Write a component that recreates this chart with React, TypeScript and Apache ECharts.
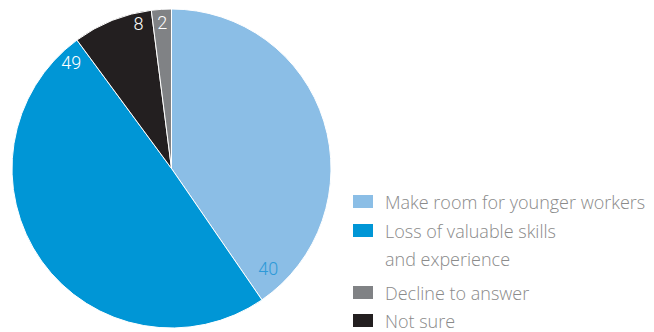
import React, { useEffect, useRef } from 'react';
import * as echarts from 'echarts';

// ---- data ----
const categories = [
  'Make room for younger workers',
  'Loss of valuable skills and experience',
  'Not sure',
  'Decline to answer',
];
const values = [40, 49, 8, 2];
const legendOrder = [
  'Make room for younger workers',
  'Loss of valuable skills and experience',
  'Decline to answer',
  'Not sure',
];
const legendLabels = [
  'Make room for younger workers',
  'Loss of valuable skills\nand experience',
  'Decline to answer',
  'Not sure',
];

// ---- style ----
const colors = ['#8BBEE6', '#0096D6', '#231F20', '#808285'];
const labelColors = ['#2E9AD8', '#FFFFFF', '#FFFFFF', '#FFFFFF'];
const labelBackDeg = [9.5, 7, 5.5, 3.6];
const labelRadius = [139, 146, 149, 146];
const CX = 171.5;
const CY = 168.5;
const R = 159.5;
const FONT = 'Roboto, "Noto Sans", sans-serif';
const LEGEND_FONT = '"Open Sans", Roboto, sans-serif';

export default function App() {
  const ref = useRef<HTMLDivElement>(null);

  useEffect(() => {
    if (!ref.current) return;
    const chart = echarts.init(ref.current, null, { renderer: 'svg' });

    const total = values.reduce((a, b) => a + b, 0);
    const endAngles: number[] = [];
    let cum = 0;
    values.forEach((v) => {
      cum += v;
      endAngles.push((cum / total) * 360);
    });

    const legendTops = [192.5, 216.5, 283.5, 311.5];
    const legends = legendOrder.map((name, i) => {
      const multi = i === 1;
      return {
        orient: 'vertical',
        left: 351,
        top: legendTops[i],
        padding: 0,
        itemWidth: 22,
        itemHeight: multi ? 43 : 15,
        icon: multi ? 'path://M0 0H22V15H0Z M0 42.99H0.01V43H0Z' : 'path://M0 0H22V15H0Z',
        selectedMode: false,
        data: [name],
        formatter: () => legendLabels[i],
        textStyle: {
          color: '#8A8A8A',
          fontSize: 18,
          fontWeight: 300,
          fontFamily: LEGEND_FONT,
          lineHeight: multi ? 28 : 15,
          padding: [0, 0, 0, 6],
        },
      };
    });

    chart.setOption({
      animation: false,
      color: colors,
      legend: legends,
      series: [
        {
          type: 'pie',
          center: [CX, CY],
          radius: [0, R],
          startAngle: 90,
          clockwise: true,
          silent: true,
          itemStyle: { borderColor: '#FFFFFF', borderWidth: 1 },
          label: {
            show: true,
            position: 'inside',
            formatter: '{c}',
            fontSize: 18,
            fontWeight: 300,
            fontFamily: FONT,
          },
          labelLine: { show: false },
          labelLayout: (p: any) => {
            const i = p.dataIndex;
            const a = ((endAngles[i] - labelBackDeg[i]) * Math.PI) / 180;
            return {
              x: CX + labelRadius[i] * Math.sin(a),
              y: CY - labelRadius[i] * Math.cos(a),
              align: 'center',
              verticalAlign: 'middle',
            };
          },
          data: categories.map((name, i) => ({
            name,
            value: values[i],
            label: { color: labelColors[i] },
          })),
        },
      ],
    });

    return () => chart.dispose();
  }, []);

  return (
    <div
      ref={ref}
      style={{ position: 'fixed', left: 0, top: 0, width: 654, height: 332, background: '#fff' }}
    />
  );
}
